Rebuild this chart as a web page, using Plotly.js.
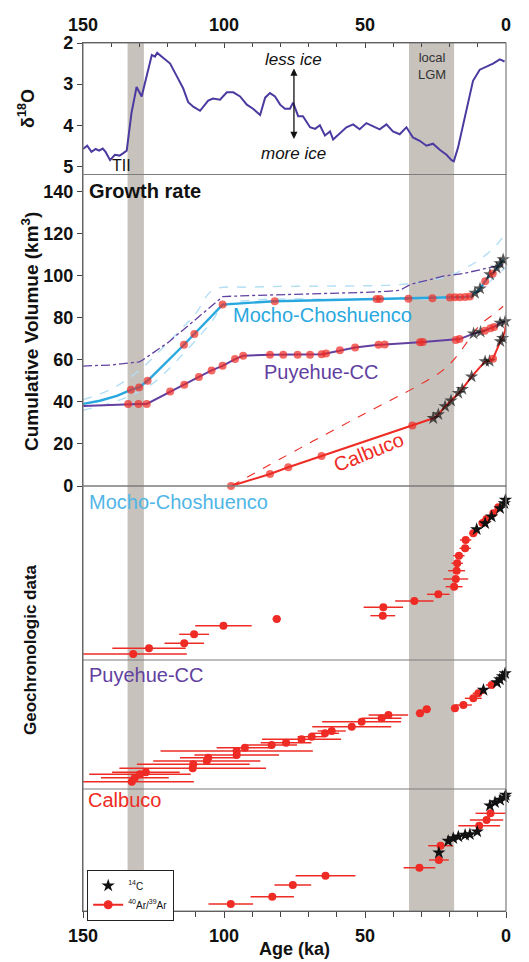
<!DOCTYPE html>
<html><head><meta charset="utf-8">
<script src="https://cdn.plot.ly/plotly-3.0.1.min.js"></script>
<style>body{margin:0;background:#fff}#c{width:529px;height:962px}</style>
</head><body><div id="c"></div><script>
// ---------- δ18O record ----------
const d18Age = [150,148.5,147,145.5,144.3,143,142,140.4,138.7,137,135.7,134.5,132.8,131,129.2,127.4,125.6,124.5,123.7,121.6,119.1,116.8,114.5,112.7,110.9,108.5,105.6,103.9,101.4,99,96.7,94.3,91.9,89.7,87.2,85.4,83.7,81.9,80.1,78.4,76.6,75.5,73.7,72,69.5,67.7,66,64.2,62.4,61.3,59,56.6,54.2,51.9,49.5,47.2,44.8,42.4,40.1,37.7,35.3,33,30.6,28.2,25.9,23.5,21.1,19.3,18.5,17,15.2,13.5,11.7,9.3,7,4.6,2.2,0.5];
const d18Val = [4.58,4.5,4.65,4.58,4.62,4.57,4.65,4.85,4.72,4.74,4.68,4.62,3.7,3.07,3.3,2.8,2.29,2.33,2.24,2.36,2.5,2.8,3.1,3.44,3.55,3.65,3.4,3.35,3.38,3.2,3.2,3.3,3.5,3.6,3.75,3.33,3.22,3.3,3.5,3.6,3.6,3.45,3.78,3.78,4.05,4.09,4.0,4.25,4.15,4.35,4.2,4.05,3.98,4.1,3.95,4.02,4.1,3.98,4.15,4.22,4.05,4.3,4.38,4.5,4.45,4.6,4.72,4.85,4.88,4.54,3.97,3.48,2.92,2.65,2.58,2.5,2.4,2.45];

// ---------- cumulative volume (kind: n = none, a = 40Ar/39Ar, c = 14C) ----------
const mochoAge = [150,144,138,133,130.1,127.1,114.2,110.5,100.5,82,45.9,44.7,34.6,26.1,19.9,18.1,16.3,14.5,12.8,11,9.2,7.4,5.7,4.7,3.3,2.1,1];
const mochoVol = [39,40.5,42.8,45.7,46.8,50,67.1,72.2,86.2,87.8,88.9,88.9,89,89.2,89.6,89.7,89.7,89.8,90,91.7,93.8,97.3,100.5,101,103.6,105.7,107.6];
const mochoKind = ['n','n','n','a','a','a','a','a','a','a','a','a','a','a','a','a','a','a','a','c','c','a','c','a','c','c','c'];

const puyAge = [150,134,130.3,127.4,119.1,114.1,108.9,104.4,100.5,96.1,93.2,83.7,79,73.9,69.5,65.4,63.8,58.9,53.5,45.2,43,30.5,29.5,17.8,16.5,11.5,9,7.5,5.5,4.2,2.1,0.3];
const puyVol = [38,39,39,39,44.9,48.1,51.8,54.9,57.1,60.3,61.9,62.4,62.4,62.4,62.4,62.6,63,64.5,65.8,67.1,67.2,68.3,68.4,69.4,69.8,72.4,73.2,73.8,75,75.6,77.5,78.2];
const puyKind = ['n','a','a','a','a','a','a','a','a','a','a','a','a','a','a','a','a','a','a','a','a','a','a','a','a','c','c','a','a','a','c','c'];

const calAge = [97.5,83.7,77.2,65.4,33.2,25.8,24,21.6,19.5,16.9,15.5,12.2,7.4,5.8,4.6,2,1.2,0.3,0];
const calVol = [0,5.7,8.9,14.3,28.7,32.2,34,37.8,40.5,44.1,46,52,59.2,59.4,60.5,68.7,70.3,74,77];
const calKind = ['a','a','a','a','a','c','c','c','c','c','c','c','c','c','a','c','c','n','n'];

// uncertainty envelopes
const mochoUpAge = [150,140,130,120,110,104,90,60,40,30,20,10,3,0];
const mochoUpVol = [41,46,55,68,82,93,94.5,95,95.5,97,100,107,115,121];
const mochoLoAge = [150,140,133,125,115,105,100,90,50,20,12,5,0];
const mochoLoVol = [36,39.5,43,49,62,77,85.5,88.3,88.6,89.3,91,98,104];
const purpleDashAge = [150,140,130,128.7,120,110,100.4,90,73,50,42.3,37.6,34,30,22.3,15,8,2,0];
const purpleDashVol = [57,57.5,59,60,68,79,90,90.5,91,92,92.5,93,95.7,97,99.7,101,103,105,105.5];
const calUpAge = [97.5,73,50,31.7,22.2,17.5,14,11.6,8,4,1];
const calUpVol = [0,18,34.5,47.3,55.2,61.6,68,72.7,78,82,85.4];

// ---------- geochronologic data ----------
const mochoArAge = [132.2,126.6,114.1,110.6,100.2,81.3,43.7,43.5,32.5,24,18.4,17.8,17.5,17.3,16.7,14.5,14.3,11.6,8.3,6.9,4.5,2.7];
const mochoArPos = [6,11.7,16.7,25.7,34.3,41,44.3,52.7,59,65.7,73.3,81,89.3,96.7,104.3,111.7,120,126.7,137,141,146.7,152.7];
const mochoArErr = [19,13,7,5.3,10,1.5,4.4,7,6.8,4,3,4.4,3,2,2,2,2,1.5,1.5,1.5,1,1];
const mochoC14Age = [10.4,7.4,5.1,2.1,0.6,0.2];
const mochoC14Pos = [130.7,136.7,143.3,151.7,156.7,160];

const puyArAge = [132.7,131.6,129.8,127.7,111.1,110.9,106.1,105.6,95.5,95.5,92.6,83.1,78,72.5,68.9,64.2,61.8,54.7,51.2,44.1,41.7,30.5,28.1,18.1,15.1,11.6,9.8,5.1];
const puyArPos = [7.3,11.3,14.7,16.7,20.7,24.7,28,31.3,34,38,41.3,44,46.3,49.7,52.3,55.7,58,62.3,67.3,70.7,74,75.7,79.7,80.7,84,90.7,95.7,104];
const puyArErr = [22,12,18,12,26,20,19,10,15,27,10,9,9,14,5,5,5,14,14,7,7,1.5,1.5,1.5,3,3,2,2];
const puyC14Age = [8,3.2,2.2,1.2,0.3];
const puyC14Pos = [99,106.5,109.5,112.5,115.7];

const calArAge = [97.6,82.9,75.6,64,30.7,23.8,23.2,9.5,6.9,5.5];
const calArPos = [7,14.3,26,35.3,43.3,51,65.3,85.3,91,97.7];
const calArErr = [7.9,7.7,6.5,10.6,5.6,3.5,4.4,7.4,5.9,5.3];
const calC14Age = [23.8,20.5,18.7,16.9,14.5,12.8,10.2,5.7,3.9,2.1,0.4,0.1];
const calC14Pos = [58.3,70,72.7,74.3,76,76.7,79.3,105.3,108.7,111,113.3,116];

// bands (ka)
const tiiBand = [134.2,128.4];
const lgmBand = [34.4,18.4];

// ---------- styling ----------
const FONT = 'Liberation Sans, Arial, sans-serif';
const CYAN = '#29a8e0', PURPLE = '#6240a0', RED = '#ee2b24', D18 = '#4b3ba0';
const BAND = '#c8c2bd', FRAME = '#7d7d7d';

function marks(kind){
  return {
    symbol: kind.map(k => k==='c' ? 'star' : 'circle'),
    color: kind.map(k => k==='c' ? '#111' : RED),
    size: kind.map(k => k==='n' ? 0 : (k==='c' ? 10 : 8)),
    line: {width:0}
  };
}

const traces = [];
traces.push({x:d18Age, y:d18Val, xaxis:'x', yaxis:'y', mode:'lines', line:{color:D18, width:2}, showlegend:false, hoverinfo:'skip'});
// invisible trace for top x axis
traces.push({x:[150,0], y:[null,null], xaxis:'x2', yaxis:'y', mode:'markers', showlegend:false, hoverinfo:'skip'});

// envelopes
traces.push({x:mochoUpAge, y:mochoUpVol, yaxis:'y2', mode:'lines', line:{color:'#b3def4', width:1.4, dash:'dash', shape:'spline'}, showlegend:false});
traces.push({x:mochoLoAge, y:mochoLoVol, yaxis:'y2', mode:'lines', line:{color:'#b3def4', width:1.4, dash:'dash', shape:'spline'}, showlegend:false});
traces.push({x:purpleDashAge, y:purpleDashVol, yaxis:'y2', mode:'lines', line:{color:PURPLE, width:1.3, dash:'dashdot'}, showlegend:false});
traces.push({x:calUpAge, y:calUpVol, yaxis:'y2', mode:'lines', line:{color:RED, width:1.1, dash:'dash', shape:'spline'}, showlegend:false});

traces.push({x:mochoAge, y:mochoVol, yaxis:'y2', mode:'lines+markers', line:{color:CYAN, width:2.4}, marker:marks(mochoKind), showlegend:false, cliponaxis:false});
traces.push({x:puyAge, y:puyVol, yaxis:'y2', mode:'lines+markers', line:{color:PURPLE, width:2}, marker:marks(puyKind), showlegend:false, cliponaxis:false});
traces.push({x:calAge, y:calVol, yaxis:'y2', mode:'lines+markers', line:{color:RED, width:2}, marker:marks(calKind), showlegend:false, cliponaxis:false});

function ar(age,pos,err,ya){
  return {x:age, y:pos, yaxis:ya, mode:'markers', marker:{color:RED, size:8, symbol:'circle'},
    error_x:{type:'data', array:err, visible:true, color:RED, thickness:1.4, width:0}, showlegend:false, cliponaxis:false};
}
function c14(age,pos,ya){
  return {x:age, y:pos, yaxis:ya, mode:'markers', marker:{color:'#111', size:10, symbol:'star'}, showlegend:false, cliponaxis:false};
}
traces.push(ar(mochoArAge,mochoArPos,mochoArErr,'y3'));
traces.push(c14(mochoC14Age,mochoC14Pos,'y3'));
traces.push(ar(puyArAge,puyArPos,puyArErr,'y4'));
traces.push(c14(puyC14Age,puyC14Pos,'y4'));
traces.push(ar(calArAge,calArPos,calArErr,'y5'));
traces.push(c14(calC14Age,calC14Pos,'y5'));

// legend entries
traces.push({x:[null], y:[null], yaxis:'y5', mode:'markers', name:'<sup>14</sup>C', marker:{color:'#111', size:10, symbol:'star'}, showlegend:true});
traces.push({x:[null], y:[null], yaxis:'y5', mode:'lines+markers', name:'<sup>40</sup>Ar/<sup>39</sup>Ar', line:{color:RED, width:2}, marker:{color:RED, size:9}, showlegend:true});

// ---------- layout ----------
const H = 868;
const pyToPaper = py => (911 - py) / H;
const dTop = [pyToPaper(174.5), 1];
const dMid = [pyToPaper(486), pyToPaper(174.5)];
const dMo = [pyToPaper(660), pyToPaper(486)];
const dPu = [pyToPaper(789), pyToPaper(660)];
const dCa = [0, pyToPaper(789)];

const tickFont = {family:FONT, size:18, color:'#111', weight:'bold'};
function yax(dom, extra){
  return Object.assign({domain:dom, anchor:'x', showgrid:false, zeroline:false, showline:true, linecolor:'#444', linewidth:1.2,
    ticks:'outside', ticklen:5, tickcolor:'#444', tickfont:tickFont, fixedrange:true}, extra);
}

const shapes = [];
[tiiBand, lgmBand].forEach(b => shapes.push({type:'rect', xref:'x', yref:'paper', x0:b[0], x1:b[1], y0:0, y1:1, fillcolor:BAND, line:{width:0}, layer:'below'}));
[[dTop[0],1],[dMid[0],dMid[1]],[0,dMo[1]]].forEach(d => shapes.push({type:'rect', xref:'paper', yref:'paper', x0:0, x1:1, y0:d[0], y1:d[1], line:{color:FRAME, width:1.2}, layer:'above'}));
[dMo[0], dPu[0]].forEach(y => shapes.push({type:'line', xref:'paper', yref:'paper', x0:0, x1:1, y0:y, y1:y, line:{color:FRAME, width:1.2}}));

const px2paperX = px => (px - 83) / 423;
const ann = [];
function txt(text, x, y, opts){ ann.push(Object.assign({text:text, x:x, y:y, showarrow:false, xanchor:'center', yanchor:'middle', font:{family:FONT, size:16, color:'#111'}}, opts)); }
txt('TII', 136.5, 4.98, {xref:'x', yref:'y', font:{family:FONT, size:16, color:'#111'}});
txt('<i>less ice</i>', 75.2, 2.4, {xref:'x', yref:'y', font:{family:FONT, size:17, color:'#111'}});
txt('<i>more ice</i>', 75.2, 4.68, {xref:'x', yref:'y', font:{family:FONT, size:17, color:'#111'}});
txt('local<br>LGM', 26.4, 2.55, {xref:'x', yref:'y', font:{family:FONT, size:13, color:'#333'}});
ann.push({x:75.2, y:2.62, ax:75.2, ay:4.37, xref:'x', yref:'y', axref:'x', ayref:'y', text:'', showarrow:true, arrowside:'end+start', arrowhead:2, arrowsize:1.1, arrowwidth:1.3, arrowcolor:'#111'});
txt('<b>Growth rate</b>', px2paperX(87), pyToPaper(191), {xref:'paper', yref:'paper', xanchor:'left', font:{family:FONT, size:20, color:'#111'}});
txt('Mocho-Choshuenco', 65.2, 81.4, {xref:'x', yref:'y2', font:{family:FONT, size:20, color:CYAN}});
txt('Puyehue-CC', 65.6, 54.3, {xref:'x', yref:'y2', font:{family:FONT, size:20, color:PURPLE}});
txt('Calbuco', 48.6, 16.2, {xref:'x', yref:'y2', textangle:-22, font:{family:FONT, size:20, color:RED}});
txt('Mocho-Choshuenco', px2paperX(87), pyToPaper(502), {xref:'paper', yref:'paper', xanchor:'left', font:{family:FONT, size:20, color:'#4fb6e6'}});
txt('Puyehue-CC', px2paperX(87), pyToPaper(675), {xref:'paper', yref:'paper', xanchor:'left', font:{family:FONT, size:20, color:PURPLE}});
txt('Calbuco', px2paperX(86), pyToPaper(800), {xref:'paper', yref:'paper', xanchor:'left', font:{family:FONT, size:20, color:RED}});
txt('<b>δ<sup>18</sup>O</b>', px2paperX(27), pyToPaper(109), {xref:'paper', yref:'paper', textangle:-90, font:{family:FONT, size:18, color:'#111'}});
txt('<b>Cumulative Volumue (km<sup>3</sup>)</b>', px2paperX(30), pyToPaper(332), {xref:'paper', yref:'paper', textangle:-90, font:{family:FONT, size:19, color:'#111'}});
txt('<b>Geochronologic data</b>', px2paperX(30), pyToPaper(650), {xref:'paper', yref:'paper', textangle:-90, font:{family:FONT, size:17, color:'#111'}});
txt('<b>Age (ka)</b>', 0.5, pyToPaper(949), {xref:'paper', yref:'paper', font:{family:FONT, size:18, color:'#111'}});

const layout = {
  width:529, height:962, margin:{l:83, r:23, t:43, b:51},
  paper_bgcolor:'#fff', plot_bgcolor:'rgba(0,0,0,0)',
  font:{family:FONT, color:'#111'},
  xaxis:{range:[150,0], anchor:'y5', domain:[0,1], dtick:50, tick0:0, showgrid:false, zeroline:false, showline:true, linecolor:'#444', linewidth:1.2,
    ticks:'outside', ticklen:6, tickcolor:'#444', tickfont:tickFont, ticklabelstandoff:2,
    minor:{dtick:10, ticks:'outside', ticklen:5, tickcolor:'#444', showgrid:false}, fixedrange:true},
  xaxis2:{range:[150,0], overlaying:'x', side:'top', anchor:'y', dtick:50, tick0:0, showgrid:false, zeroline:false, showline:true, linecolor:'#444', linewidth:1.2,
    ticks:'inside', ticklen:5, tickcolor:'#444', tickfont:tickFont, ticklabelstandoff:4,
    minor:{dtick:10, ticks:'inside', ticklen:4, tickcolor:'#444', showgrid:false}, fixedrange:true},
  yaxis: yax(dTop, {range:[5.2,2], tickvals:[2,3,4,5]}),
  yaxis2: yax(dMid, {range:[0,148], dtick:20, tick0:0}),
  yaxis3: yax(dMo, {range:[0,174], showticklabels:false, ticks:''}),
  yaxis4: yax(dPu, {range:[0,129], showticklabels:false, ticks:''}),
  yaxis5: yax(dCa, {range:[0,122], showticklabels:false, ticks:''}),
  shapes: shapes,
  annotations: ann,
  showlegend:true,
  legend:{x:px2paperX(87), y:pyToPaper(870), xanchor:'left', yanchor:'top', bgcolor:'#fff', bordercolor:'#222', borderwidth:1.2,
    font:{family:FONT, size:10, color:'#111'}, tracegroupgap:0, itemwidth:30}
};

Plotly.newPlot('c', traces, layout, {staticPlot:true, displayModeBar:false});
</script></body></html>
